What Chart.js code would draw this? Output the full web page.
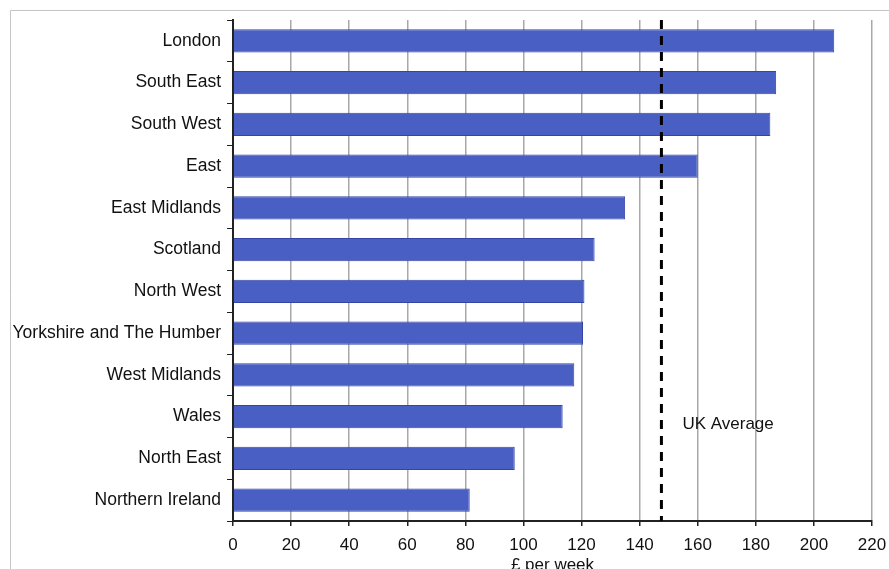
<!DOCTYPE html>
<html>
<head>
<meta charset="utf-8">
<script src="https://cdn.jsdelivr.net/npm/chart.js@4/dist/chart.umd.min.js"></script>
<style>
  html, body { margin: 0; padding: 0; background: #fff; overflow: hidden; }
  #wrap { position: relative; width: 889px; height: 580px; }
</style>
</head>
<body>
<div id="wrap"><canvas id="chart"></canvas></div>
<script>
// regions, weekly amount (£)
const regions = ['London', 'South East', 'South West', 'East', 'East Midlands', 'Scotland',
  'North West', 'Yorkshire and The Humber', 'West Midlands', 'Wales', 'North East', 'Northern Ireland'];
const perWeek = [207, 187, 185, 160, 135, 124.5, 121, 120.5, 117.5, 113.5, 97, 81.5];
const ukAverage = 147.5;
const xTicks = [0, 20, 40, 60, 80, 100, 120, 140, 160, 180, 200, 220];

const FONT = 'Liberation Sans, Arial, sans-serif';

// grey frame + dashed UK average line
const extras = {
  id: 'extras',
  afterDatasetsDraw(chart) {
    const { ctx, chartArea, scales } = chart;
    const x = scales.x.getPixelForValue(ukAverage);
    ctx.save();
    ctx.strokeStyle = '#000';
    ctx.lineWidth = 3;
    ctx.setLineDash([9, 7]);
    ctx.beginPath();
    ctx.moveTo(x, chartArea.top);
    ctx.lineTo(x, chartArea.bottom);
    ctx.stroke();
    ctx.setLineDash([]);
    ctx.fillStyle = '#111';
    ctx.font = '17px ' + FONT;
    ctx.textBaseline = 'middle';
    ctx.textAlign = 'left';
    ctx.fillText('UK Average', x + 21, scales.y.getPixelForValue(9) + 8);

    ctx.strokeStyle = '#c4c4c4';
    ctx.lineWidth = 1;
    ctx.beginPath();
    ctx.moveTo(10.5, chart.height);
    ctx.lineTo(10.5, 10.5);
    ctx.lineTo(chart.width, 10.5);
    ctx.stroke();
    ctx.restore();
  }
};

new Chart(document.getElementById('chart'), {
  type: 'bar',
  data: {
    labels: regions,
    datasets: [{
      data: perWeek,
      backgroundColor: '#4a5fc3',
      borderColor: '#3545a6',
      borderWidth: 1,
      barPercentage: 0.56,
      categoryPercentage: 1
    }]
  },
  options: {
    indexAxis: 'y',
    responsive: true,
    maintainAspectRatio: false,
    animation: false,
    layout: { padding: { top: 20, right: 17, left: 0, bottom: 0 } },
    plugins: { legend: { display: false }, tooltip: { enabled: false } },
    scales: {
      x: {
        min: 0, max: 220,
        afterBuildTicks: (s) => { s.ticks = xTicks.map(v => ({ value: v })); },
        afterFit: (s) => { s.height = 59; s.paddingLeft = 0; s.paddingRight = 0; },
        grid: { color: '#a8a8a8', lineWidth: 1.5, tickColor: '#222', tickLength: 5 },
        border: { color: '#222', width: 2 },
        ticks: { color: '#111', font: { family: FONT, size: 17 }, padding: 9 },
        title: {
          display: true, text: '£ per week', color: '#111',
          font: { family: FONT, size: 17 }, padding: { top: 0, bottom: 4 },
          align: 'center'
        }
      },
      y: {
        afterFit: (s) => { s.width = 233; },
        grid: { drawOnChartArea: false, tickColor: '#222', tickLength: 6, offset: true },
        border: { color: '#222', width: 2 },
        ticks: { color: '#111', font: { family: FONT, size: 17.5 }, padding: 6 }
      }
    }
  },
  plugins: [extras]
});
</script>
</body>
</html>
